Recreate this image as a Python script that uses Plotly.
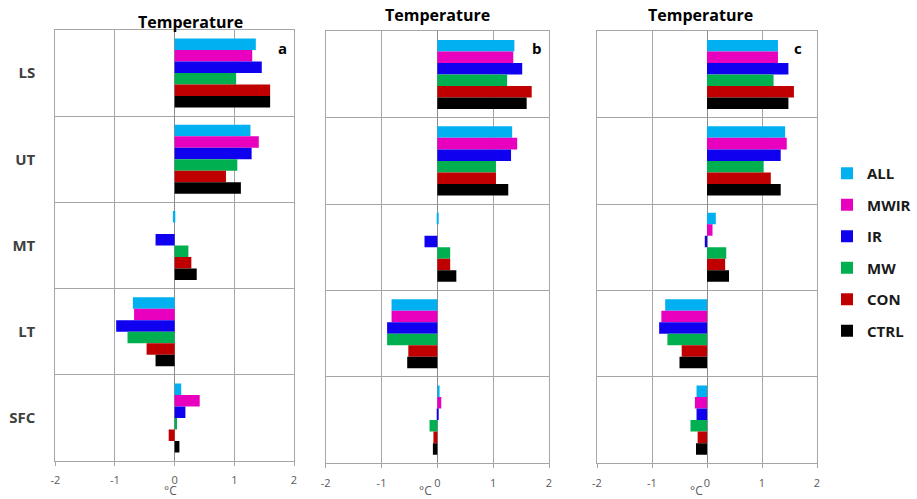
import plotly.graph_objects as go

levels = ["LS", "UT", "MT", "LT", "SFC"]
series = ["ALL", "MWIR", "IR", "MW", "CON", "CTRL"]
colors = ["#00B0F0", "#E800BE", "#1000F0", "#00B050", "#C00000", "#000000"]
x_ticks = [-2, -1, 0, 1, 2]
panel_letters = ["a", "b", "c"]
panel_title = "Temperature"
x_unit = "°C"

# panel a
a_all = [1.36, 1.27, -0.03, -0.70, 0.11]
a_mwir = [1.30, 1.41, 0.00, -0.68, 0.42]
a_ir = [1.46, 1.29, -0.32, -0.98, 0.18]
a_mw = [1.03, 1.05, 0.23, -0.79, 0.04]
a_con = [1.60, 0.86, 0.28, -0.47, -0.10]
a_ctrl = [1.60, 1.11, 0.37, -0.32, 0.08]

# panel b
b_all = [1.38, 1.34, 0.02, -0.82, 0.04]
b_mwir = [1.36, 1.43, 0.00, -0.82, 0.07]
b_ir = [1.52, 1.32, -0.23, -0.90, 0.02]
b_mw = [1.25, 1.05, 0.23, -0.90, -0.14]
b_con = [1.69, 1.05, 0.23, -0.52, -0.07]
b_ctrl = [1.60, 1.27, 0.34, -0.54, -0.08]

# panel c
c_all = [1.29, 1.42, 0.16, -0.76, -0.19]
c_mwir = [1.29, 1.45, 0.10, -0.83, -0.22]
c_ir = [1.48, 1.34, -0.04, -0.87, -0.19]
c_mw = [1.21, 1.03, 0.35, -0.72, -0.30]
c_con = [1.58, 1.16, 0.33, -0.46, -0.17]
c_ctrl = [1.48, 1.34, 0.40, -0.50, -0.20]

panels = [
    [a_all, a_mwir, a_ir, a_mw, a_con, a_ctrl],
    [b_all, b_mwir, b_ir, b_mw, b_con, b_ctrl],
    [c_all, c_mwir, c_ir, c_mw, c_con, c_ctrl],
]

W, H = 917, 499
FONT = "Open Sans"
GRID = "#A6A6A6"

# pixel boxes of each plot area (left, right, top, bottom)
boxes = [(55.3, 294.0, 30.0, 461.0), (325.7, 549.0, 31.3, 463.3), (597.0, 817.0, 31.3, 463.3)]

fig = go.Figure()
for p, vals in enumerate(panels):
    sfx = "" if p == 0 else str(p + 1)
    for s, name in enumerate(series):
        fig.add_trace(go.Bar(
            x=vals[s], y=levels, orientation="h", name=name,
            marker=dict(color=colors[s], line=dict(width=0)),
            xaxis="x" + sfx, yaxis="y" + sfx,
            showlegend=(p == 0), legendgroup=name,
        ))

layout = dict(
    width=W, height=H, margin=dict(l=0, r=0, t=0, b=0, autoexpand=False),
    paper_bgcolor="white", plot_bgcolor="white",
    barmode="group", bargap=0.2, bargroupgap=0,
    font=dict(family=FONT, color="#404040"),
    legend=dict(x=827 / W, y=1 - 157 / H, xanchor="left", yanchor="top",
                font=dict(family=FONT, size=15, color="#1a1a1a", weight="bold"),
                tracegroupgap=9, itemwidth=30, bgcolor="rgba(0,0,0,0)"),
    annotations=[], shapes=[],
)

title_pos = [(190, 22), (437.5, 15), (700.5, 15)]
letter_pos = [(282, 48), (537, 48), (798, 48)]
unit_pos = [(170, 490), (425, 490), (696, 490)]

for p, (l, r, t, b) in enumerate(boxes):
    sfx = "" if p == 0 else str(p + 1)
    layout["xaxis" + sfx] = dict(
        domain=[l / W, r / W], anchor="y" + sfx, range=[-2, 2],
        tickvals=x_ticks, ticktext=[str(v) for v in x_ticks],
        showgrid=True, gridcolor=GRID, gridwidth=1,
        zeroline=True, zerolinecolor="#8C8C8C", zerolinewidth=1,
        showline=True, linecolor=GRID, linewidth=1, mirror=True,
        ticks="outside", ticklen=4, tickcolor=GRID,
        tickfont=dict(family=FONT, size=11, color="#595959"),
        ticklabelstandoff=5, fixedrange=True,
    )
    layout["yaxis" + sfx] = dict(
        domain=[1 - b / H, 1 - t / H], anchor="x" + sfx,
        type="category", categoryorder="array", categoryarray=levels,
        autorange="reversed", tickson="boundaries",
        showgrid=True, gridcolor=GRID, gridwidth=1,
        showline=True, linecolor=GRID, linewidth=1, mirror=True,
        ticks="", showticklabels=(p == 0),
        tickfont=dict(family=FONT, size=15, color="#404040", weight="bold"),
        ticklabelstandoff=16, fixedrange=True,
    )
    layout["annotations"].append(dict(
        x=title_pos[p][0] / W, y=1 - title_pos[p][1] / H, xref="paper", yref="paper",
        text="<b>" + panel_title + "</b>", showarrow=False,
        font=dict(family=FONT, size=16, color="#000000"),
        xanchor="center", yanchor="middle"))
    layout["annotations"].append(dict(
        x=letter_pos[p][0] / W, y=1 - letter_pos[p][1] / H, xref="paper", yref="paper",
        text="<b>" + panel_letters[p] + "</b>", showarrow=False,
        font=dict(family=FONT, size=15, color="#000000"),
        xanchor="center", yanchor="middle"))
    layout["annotations"].append(dict(
        x=unit_pos[p][0] / W, y=1 - unit_pos[p][1] / H, xref="paper", yref="paper",
        text=x_unit, showarrow=False,
        font=dict(family=FONT, size=12, color="#595959"),
        xanchor="center", yanchor="middle"))

fig.update_layout(**layout)
fig.write_html("out.html")
